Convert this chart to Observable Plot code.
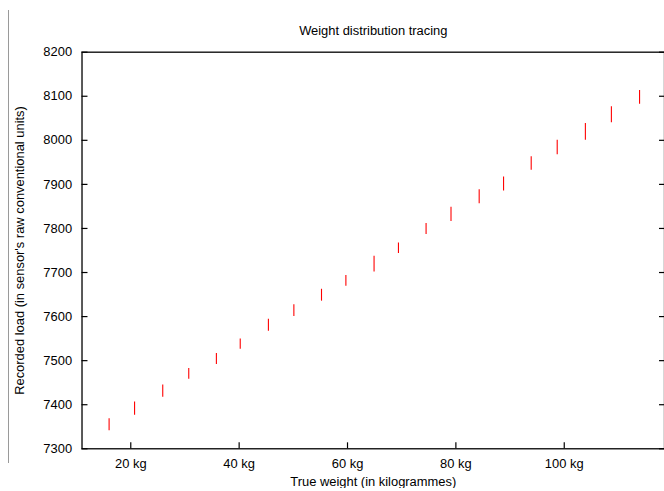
<!DOCTYPE html>
<html>
<head>
<meta charset="utf-8">
<script src="https://cdn.jsdelivr.net/npm/d3@7"></script>
<script src="https://cdn.jsdelivr.net/npm/@observablehq/plot@0.6"></script>
<style>
  html, body { margin: 0; padding: 0; background: #fff; overflow: hidden; }
  #wrap { position: relative; width: 664px; height: 491px; overflow: hidden; }
  #edge { position: absolute; left: 8px; top: 10px; width: 1px; height: 453px; background: #9a9a9a; }
  svg { font-family: "Liberation Sans", Arial, Helvetica, sans-serif; }
</style>
</head>
<body>
<div id="wrap"><div id="edge"></div></div>
<script>
const titleText = "Weight distribution tracing";
const xLabel = "True weight (in kilogrammes)";
const yLabel = "Recorded load (in sensor's raw conventional units)";

const weights = [16.0, 20.7, 25.9, 30.7, 35.8, 40.2, 45.4, 50.1, 55.2, 59.7, 64.9,
                 69.4, 74.5, 79.1, 84.3, 88.8, 93.9, 98.7, 103.9, 108.7, 113.9];
const loadLow  = [7341, 7376, 7417, 7458, 7491, 7526, 7567, 7600, 7635, 7669, 7701,
                  7743, 7786, 7816, 7856, 7885, 7932, 7967, 8000, 8040, 8082];
const loadHigh = [7368, 7406, 7445, 7482, 7516, 7549, 7594, 7627, 7662, 7693, 7737,
                  7767, 7811, 7848, 7888, 7917, 7963, 8000, 8038, 8076, 8113];

const xTicks = [20, 40, 60, 80, 100];
const yTicks = [7300, 7400, 7500, 7600, 7700, 7800, 7900, 8000, 8100, 8200];

const data = weights.map((w, i) => ({w, lo: loadLow[i], hi: loadHigh[i]}));

const chart = Plot.plot({
  width: 668,
  height: 491,
  marginLeft: 82,
  marginRight: 0,
  marginTop: 52,
  marginBottom: 40,
  style: {fontSize: "13px", fontFamily: "'Liberation Sans', Arial, Helvetica, sans-serif", color: "#000", background: "#fff"},
  x: {domain: [11, 118.5]},
  y: {domain: [7300, 8200]},
  marks: [
    Plot.frame({stroke: "#000", strokeWidth: 1.3}),
    Plot.axisX({ticks: xTicks, tickFormat: d => `${d} kg`, tickSize: -6, tickPadding: 16, label: null, fontSize: 13, strokeWidth: 1.2}),
    Plot.axisY({ticks: yTicks, tickFormat: d => `${d}`, tickSize: -6, tickPadding: 16, label: null, fontSize: 13, strokeWidth: 1.2}),
    Plot.axisY({anchor: "right", ticks: yTicks, tickFormat: () => "", tickSize: -6, label: null, strokeWidth: 1.2}),
    Plot.ruleX(data, {x: "w", y1: "lo", y2: "hi", stroke: "#ff0000", strokeWidth: 1.1}),
    Plot.text([titleText], {frameAnchor: "top", dy: -21, lineAnchor: "middle", fontSize: 13}),
    Plot.text([xLabel], {frameAnchor: "bottom", dy: 33, lineAnchor: "middle", fontSize: 13}),
    Plot.text([yLabel], {frameAnchor: "left", dx: -63, rotate: -90, textAnchor: "middle", lineAnchor: "middle", fontSize: 13})
  ]
});
document.getElementById("wrap").appendChild(chart);
</script>
</body>
</html>
